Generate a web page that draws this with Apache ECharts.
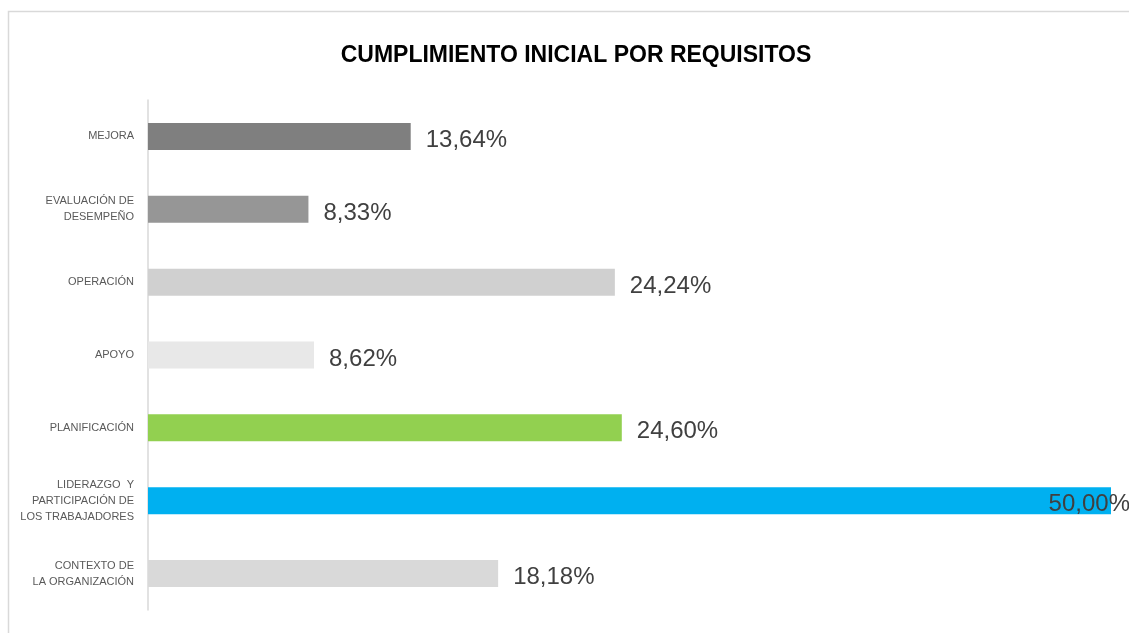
<!DOCTYPE html>
<html>
<head>
<meta charset="utf-8">
<script src="https://cdn.jsdelivr.net/npm/echarts@6/dist/echarts.min.js"></script>
<style>
html,body{margin:0;padding:0;background:#fff;}
#chart{width:1129px;height:633px;}
</style>
</head>
<body>
<div id="chart"></div>
<script>
// Categories listed bottom to top (ECharts category y-axis starts at bottom)
const categories = [
  'CONTEXTO DE\nLA ORGANIZACIÓN',
  'LIDERAZGO  Y\nPARTICIPACIÓN DE\nLOS TRABAJADORES',
  'PLANIFICACIÓN',
  'APOYO',
  'OPERACIÓN',
  'EVALUACIÓN DE\nDESEMPEÑO',
  'MEJORA'
];
const values = [18.18, 50.00, 24.60, 8.62, 24.24, 8.33, 13.64];
const barColors = ['#d9d9d9', '#00b0f0', '#92d050', '#e8e8e8', '#d0d0d0', '#969696', '#7f7f7f'];
const titleText = 'CUMPLIMIENTO INICIAL POR REQUISITOS';

const fmt = v => v.toFixed(2).replace('.', ',') + '%';

const seriesData = values.map((v, i) => {
  const item = { value: v, itemStyle: { color: barColors[i] } };
  if (v >= 50) {
    item.label = { position: 'insideRight', offset: [24, 4], distance: 5 };
  }
  return item;
});

const chart = echarts.init(document.getElementById('chart'), null, { renderer: 'canvas' });
chart.setOption({
  animation: false,
  backgroundColor: '#ffffff',
  graphic: [{
    type: 'rect',
    shape: { x: 8.5, y: 11.5, width: 1300, height: 800 },
    style: { fill: 'none', stroke: '#d9d9d9', lineWidth: 1.5 },
    silent: true
  }],
  title: {
    text: titleText,
    left: 571,
    textAlign: 'center',
    top: 39,
    textStyle: {
      fontFamily: '"Liberation Sans", sans-serif',
      fontWeight: 'bold',
      fontSize: 23,
      color: '#000000'
    }
  },
  grid: { left: 148, right: 18, top: 100, bottom: 23, containLabel: false },
  xAxis: {
    type: 'value',
    min: 0,
    max: 50,
    show: false,
    splitLine: { show: false }
  },
  yAxis: {
    type: 'category',
    data: categories,
    axisLine: { show: true, lineStyle: { color: '#d9d9d9', width: 1.5 } },
    axisTick: { show: false },
    axisLabel: {
      margin: 14,
      color: '#595959',
      fontSize: 11,
      lineHeight: 16,
      fontFamily: '"Liberation Sans", sans-serif',
      align: 'right'
    }
  },
  series: [{
    type: 'bar',
    data: seriesData,
    barWidth: 27,
    label: {
      show: true,
      position: 'right',
      distance: 15,
      offset: [0, 4],
      color: '#404040',
      fontSize: 24,
      fontFamily: '"Liberation Sans", sans-serif',
      formatter: p => fmt(p.value)
    }
  }]
});
</script>
</body>
</html>
